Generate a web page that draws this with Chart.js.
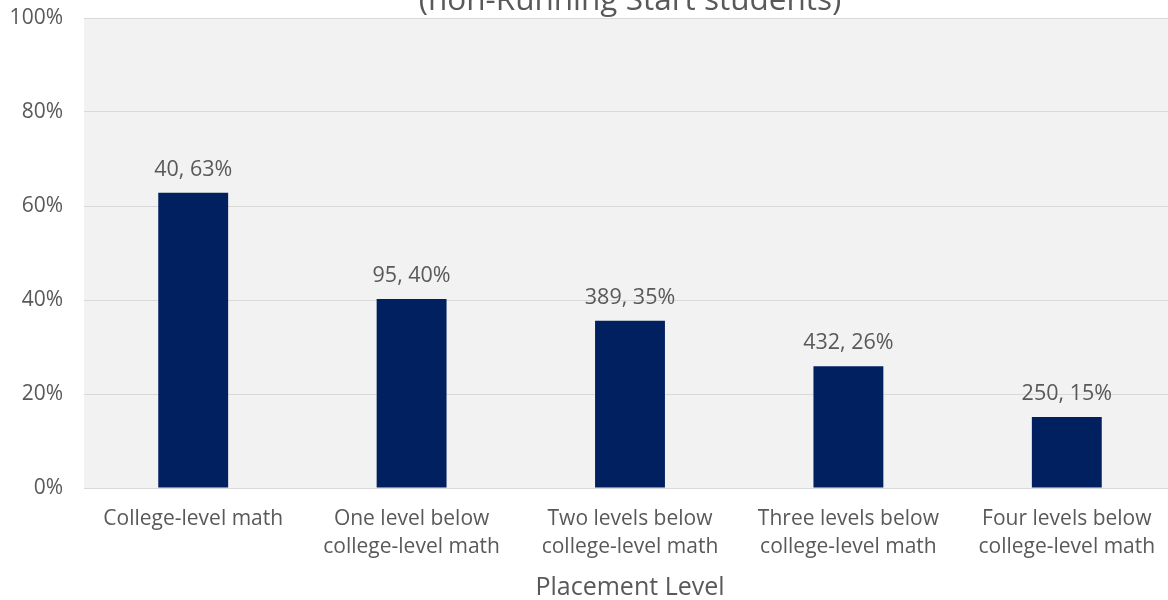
<!DOCTYPE html>
<html>
<head>
<meta charset="utf-8">
<script src="https://cdn.jsdelivr.net/npm/chart.js@4.4.1/dist/chart.umd.min.js"></script>
<style>
  html, body { margin: 0; padding: 0; background: #ffffff; overflow: hidden; }
  #wrap { position: relative; width: 1180px; height: 600px; }
</style>
</head>
<body>
<div id="wrap"><canvas id="c"></canvas></div>
<script>
// ---- data ----
const categories = [
  ["College-level math"],
  ["One level below", "college-level math"],
  ["Two levels below", "college-level math"],
  ["Three levels below", "college-level math"],
  ["Four levels below", "college-level math"]
];
const percentValues = [62.8, 40.2, 35.6, 25.9, 15.1];
const studentCounts = [40, 95, 389, 432, 250];
const percentLabels = ["63%", "40%", "35%", "26%", "15%"];
const yTickValues = [0, 20, 40, 60, 80, 100];
const chartTitle = "(non-Running Start students)";
const xAxisTitle = "Placement Level";

const FONT = "'Open Sans', 'DejaVu Sans', sans-serif";
const TEXT = "#595959";

const plotBg = {
  id: "plotBg",
  beforeDraw(chart) {
    const { ctx, chartArea: a } = chart;
    ctx.save();
    ctx.fillStyle = "#f2f2f2";
    ctx.fillRect(a.left, a.top, a.right - a.left, a.bottom - a.top);
    ctx.restore();
  }
};

const titlePlugin = {
  id: "cutTitle",
  afterDraw(chart) {
    const { ctx, chartArea: a } = chart;
    ctx.save();
    ctx.fillStyle = TEXT;
    ctx.font = "31.5px " + FONT;
    ctx.textAlign = "center";
    ctx.textBaseline = "alphabetic";
    ctx.fillText(chartTitle, (a.left + a.right) / 2, 10);
    ctx.restore();
  }
};

const barLabels = {
  id: "barLabels",
  afterDatasetsDraw(chart) {
    const { ctx } = chart;
    const meta = chart.getDatasetMeta(0);
    ctx.save();
    ctx.fillStyle = TEXT;
    ctx.font = "21.5px " + FONT;
    ctx.textAlign = "center";
    ctx.textBaseline = "middle";
    meta.data.forEach((bar, i) => {
      ctx.fillText(studentCounts[i] + ", " + percentLabels[i], bar.x, bar.y - 23);
    });
    ctx.restore();
  }
};

new Chart(document.getElementById("c"), {
  type: "bar",
  data: {
    labels: categories,
    datasets: [{
      data: percentValues,
      backgroundColor: "#002060",
      borderWidth: 0,
      barPercentage: 0.32,
      categoryPercentage: 1.0
    }]
  },
  options: {
    responsive: true,
    maintainAspectRatio: false,
    animation: false,
    devicePixelRatio: 1,
    layout: { padding: { top: 18, right: 4, bottom: 0, left: 0 } },
    plugins: {
      legend: { display: false },
      tooltip: { enabled: false },
      title: { display: false }
    },
    scales: {
      x: {
        grid: { display: false, drawTicks: false },
        border: { display: true, color: "#d9d9d9", width: 1 },
        ticks: {
          color: TEXT,
          font: { family: FONT, size: 21, lineHeight: 1.333 },
          padding: 17,
          maxRotation: 0,
          autoSkip: false
        },
        title: {
          display: true,
          text: xAxisTitle,
          color: TEXT,
          font: { family: FONT, size: 25, lineHeight: 1.0 },
          padding: { top: 0, bottom: 0 }
        },
        afterFit(scale) { scale.height = 112; }
      },
      y: {
        min: 0,
        max: 100,
        afterBuildTicks(scale) { scale.ticks = yTickValues.map(v => ({ value: v })); },
        grid: { color: "#d9d9d9", drawTicks: false, lineWidth: 1 },
        border: { display: false },
        ticks: {
          color: TEXT,
          font: { family: FONT, size: 21 },
          padding: 21,
          callback: (v) => v + "%"
        },
        afterFit(scale) {
          scale.width = 84;
          scale.paddingTop = 0;
          scale.paddingBottom = 0;
        }
      }
    }
  },
  plugins: [plotBg, titlePlugin, barLabels]
});
</script>
</body>
</html>
